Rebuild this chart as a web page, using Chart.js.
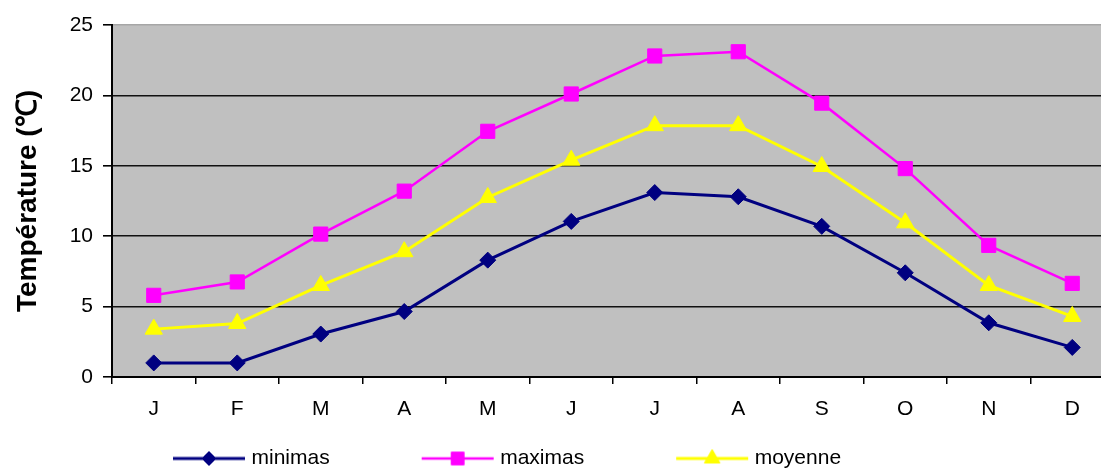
<!DOCTYPE html>
<html lang="fr">
<head>
    <meta charset="UTF-8">
    <title>Températures mensuelles</title>
    <script src="https://cdn.jsdelivr.net/npm/chart.js"></script>
    <style>
        html, body { margin: 0; padding: 0; background: #fff; overflow: hidden; }
        .wrap { width: 1101px; height: 468px; overflow: hidden; }
        canvas { display: block; }
    </style>
</head>
<body>
    <div class="wrap"><canvas id="tempChart" width="1125" height="479"></canvas></div>

    <script>
        // values (°C)
        const months  = ['J', 'F', 'M', 'A', 'M', 'J', 'J', 'A', 'S', 'O', 'N', 'D'];
        const minimas = [1.0, 1.0, 3.05, 4.65, 8.3, 11.05, 13.1, 12.8, 10.7, 7.4, 3.85, 2.1];
        const maximas = [5.8, 6.75, 10.15, 13.2, 17.45, 20.1, 22.8, 23.1, 19.45, 14.8, 9.35, 6.65];
        const moyenne = [3.4, 3.8, 6.5, 8.9, 12.75, 15.4, 17.85, 17.85, 14.95, 10.95, 6.5, 4.3];
        const yMin = 0, yMax = 25, yStep = 5;

        const series = [
            { label: 'minimas', data: minimas, color: '#000080', style: 'rectRot', radius: 8, width: 3 },
            { label: 'maximas', data: maximas, color: '#ff00ff', style: 'rect', radius: 10, width: 2.5 },
            { label: 'moyenne', data: moyenne, color: '#ffff00', style: 'triangle', radius: 10, width: 3 }
        ];

        // legend icon: a short line with the marker in the middle
        // (the icon is centred on the legend box, the line sits at its right end)
        function legendIcon(s) {
            const c = document.createElement('canvas');
            c.width = 180; c.height = 24;
            const ctx = c.getContext('2d');
            ctx.strokeStyle = s.color;
            ctx.fillStyle = s.color;
            ctx.lineWidth = s.width;
            ctx.beginPath();
            ctx.moveTo(97, 12);
            ctx.lineTo(169, 12);
            ctx.stroke();
            ctx.lineWidth = 1;
            Chart.helpers.drawPoint(ctx, { pointStyle: s.style, radius: s.radius - 1, borderWidth: 1, rotation: 0 }, 133, 12);
            return c;
        }

        const plotBg = {
            id: 'plotBg',
            beforeDraw(chart) {
                const { ctx, chartArea: a } = chart;
                ctx.save();
                ctx.fillStyle = '#c0c0c0';
                ctx.fillRect(a.left, a.top, a.width, a.height);
                ctx.restore();
            }
        };

        // push the legend row to the right, like in the original
        const legendShift = {
            id: 'legendShift',
            afterLayout(chart) {
                chart.legend.left += 81;
                chart.legend.right += 81;
            }
        };

        const ctx = document.getElementById('tempChart').getContext('2d');
        new Chart(ctx, {
            type: 'line',
            data: {
                labels: months,
                datasets: series.map(s => ({
                    label: s.label,
                    data: s.data,
                    borderColor: s.color,
                    backgroundColor: s.color,
                    borderWidth: s.width,
                    pointStyle: s.style,
                    pointRadius: s.radius,
                    pointBorderWidth: 1,
                    pointBackgroundColor: s.color,
                    pointBorderColor: s.color,
                    tension: 0,
                    fill: false
                }))
            },
            options: {
                responsive: false,
                animation: false,
                layout: { padding: { top: 25, right: 0, left: 0, bottom: 0 } },
                plugins: {
                    tooltip: { enabled: false },
                    legend: {
                        position: 'bottom',
                        align: 'start',
                        labels: {
                            usePointStyle: true,
                            pointStyleWidth: 150,
                            padding: 10,
                            color: '#000',
                            font: { family: 'Liberation Sans, Arial, sans-serif', size: 21 },
                            generateLabels: chart => series.map((s, i) => ({
                                text: s.label,
                                pointStyle: legendIcon(s),
                                fillStyle: s.color,
                                strokeStyle: s.color,
                                lineWidth: 0,
                                hidden: false,
                                datasetIndex: i,
                                fontColor: '#000'
                            }))
                        }
                    }
                },
                scales: {
                    x: {
                        offset: true,
                        grid: {
                            offset: true,
                            drawOnChartArea: false,
                            drawTicks: true,
                            tickLength: 7,
                            tickColor: '#000',
                            lineWidth: 1.5
                        },
                        border: { display: true, color: '#000', width: 2 },
                        ticks: {
                            color: '#000',
                            padding: 13,
                            maxRotation: 0,
                            autoSkip: false,
                            font: { family: 'Liberation Sans, Arial, sans-serif', size: 21 }
                        },
                        afterFit: scale => { scale.height = 61; }
                    },
                    y: {
                        min: yMin,
                        max: yMax,
                        grid: {
                            color: c => c.tick && c.tick.value === yMax ? '#a6a6a6' : '#111',
                            lineWidth: 1.6,
                            tickLength: 9,
                            tickColor: '#000'
                        },
                        border: { display: true, color: '#000', width: 2 },
                        ticks: {
                            stepSize: yStep,
                            color: '#000',
                            padding: 10,
                            font: { family: 'Liberation Sans, Arial, sans-serif', size: 21 }
                        },
                        title: {
                            display: true,
                            text: 'Température (℃)',
                            color: '#000',
                            padding: { top: 11, bottom: 0 },
                            font: { family: 'Liberation Sans, Arial, sans-serif', size: 28, weight: 'bold' }
                        },
                        afterFit: scale => { scale.width = 112; }
                    }
                }
            },
            plugins: [plotBg, legendShift]
        });
    </script>
</body>
</html>
